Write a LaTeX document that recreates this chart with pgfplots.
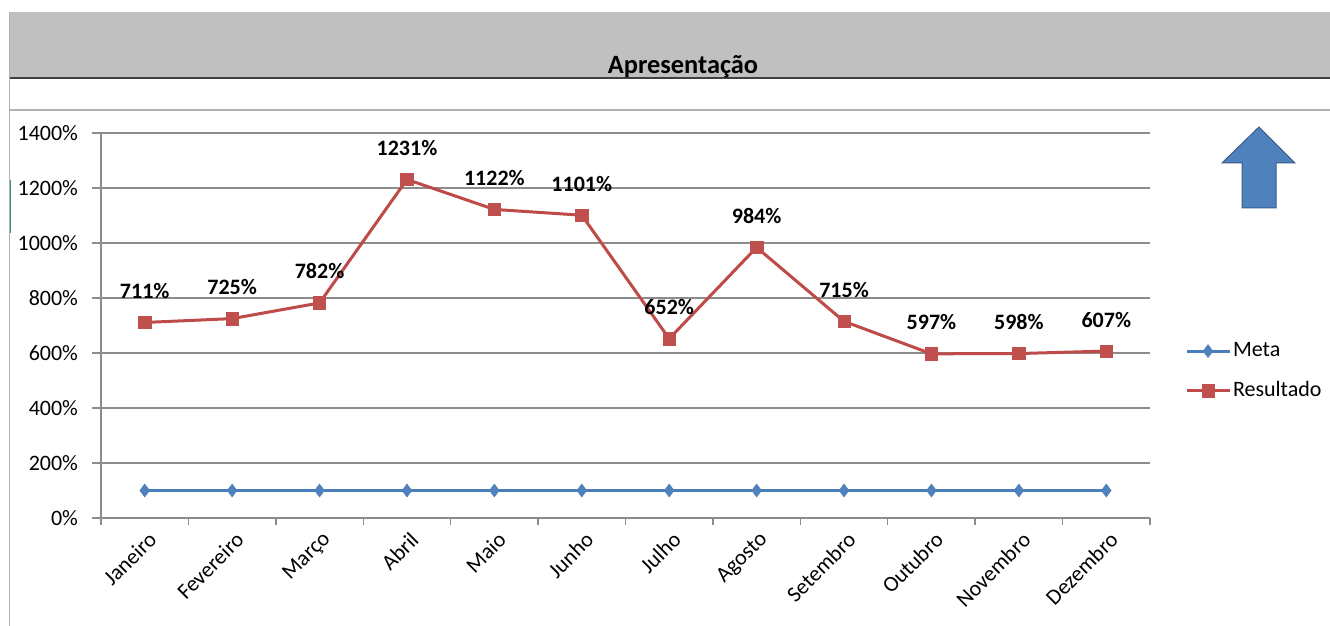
\documentclass[border=0pt]{standalone}
\usepackage{pgfplots}
\pgfplotsset{compat=1.18}
\usepackage{fontspec}
\setmainfont{Carlito}
\definecolor{metaBlue}{HTML}{4A7EBB}
\definecolor{metaMark}{HTML}{4F81BD}
\definecolor{resRed}{HTML}{BE4B48}
\definecolor{resMark}{HTML}{C0504D}
\definecolor{gridGray}{HTML}{8C8C8C}
\definecolor{bandGray}{HTML}{C0C0C0}
\definecolor{darkLine}{HTML}{404040}
\definecolor{arrowBlue}{HTML}{4F81BD}
\definecolor{arrowEdge}{HTML}{385D8A}
\definecolor{xlGreen}{HTML}{3A9A5E}
\begin{document}
\begin{tikzpicture}[font=\fontsize{11pt}{13.2pt}\selectfont]
\useasboundingbox (0,0) rectangle (665pt,313pt);
\fill[white] (0,0) rectangle (665pt,313pt);
\fill[bandGray] (4.75pt,274pt) rectangle (665pt,307pt);
\draw[darkLine, line width=1.4pt] (4.75pt,274pt) -- (665pt,274pt);
\draw[gray!60, line width=0.6pt] (4.75pt,258pt) -- (665pt,258pt);
\draw[gray!60, line width=0.7pt] (4.75pt,0pt) -- (4.75pt,307pt);
\draw[xlGreen, line width=0.7pt] (5.2pt,196.5pt) -- (5.2pt,223pt);
\node[anchor=base, font=\fontsize{13.2pt}{15pt}\selectfont\bfseries] at (341.5pt,276.3pt) {Apresentação};
% arrow
\filldraw[fill=arrowBlue, draw=arrowEdge, line width=0.5pt]
  (629.5pt,249.5pt) -- (647.5pt,231.5pt) -- (638pt,231.5pt) -- (638pt,209pt)
  -- (621pt,209pt) -- (621pt,231.5pt) -- (611pt,231.5pt) -- cycle;
\begin{axis}[
  at={(50.5pt,54pt)}, anchor=south west,
  scale only axis, width=524.5pt, height=192.5pt,
  xmin=-0.5, xmax=11.5, ymin=0, ymax=1400,
  axis x line*=bottom, axis y line*=left,
  axis line style={gridGray, line width=0.7pt, -},
  xtick={0,...,11},
  xticklabels={Janeiro,Fevereiro,Março,Abril,Maio,Junho,Julho,Agosto,Setembro,Outubro,Novembro,Dezembro},
  minor xtick={-0.5,0.5,...,11.5},
  major x tick style={draw=none},
  minor x tick style={gridGray, line width=0.7pt},
  minor tick length=3.5pt,
  ytick={0,200,...,1400},
  y tick style={gridGray, line width=0.7pt},
  major tick length=4.5pt,
  tick align=outside,
  ymajorgrids,
  major grid style={gridGray, line width=0.7pt},
  yticklabel={\pgfmathprintnumber{\tick}\%},
  /pgf/number format/assume math mode=true,
  /pgf/number format/1000 sep={},
  y tick label style={xshift=-3.5pt},
  x tick label style={rotate=45, anchor=east, xshift=3pt, yshift=-6pt},
  clip=false,
  legend style={at={(rel axis cs:1.033,0.462)}, anchor=north west, draw=none, fill=none,
    inner sep=0pt, row sep=9pt, font=\fontsize{11pt}{13.2pt}\selectfont,
    nodes={inner sep=1pt}},
  legend cell align=left,
  legend image code/.code={\draw[mark repeat=2,mark phase=2,#1] plot coordinates {(0pt,0pt) (10.75pt,0pt) (21.5pt,0pt)};},
]
\addplot[metaBlue, line width=1.5pt, mark=diamond*, mark size=3.2pt,
  mark options={fill=metaMark, draw=metaMark, line width=0.3pt}]
  coordinates {(0,100) (1,100) (2,100) (3,100) (4,100) (5,100) (6,100) (7,100) (8,100) (9,100) (10,100) (11,100)};
\addlegendentry{Meta}
\addplot[resRed, line width=1.5pt, mark=square*, mark size=3.1pt,
  mark options={fill=resMark, draw=resMark, line width=0.3pt},
  nodes near coords={\pgfmathprintnumber[fixed,precision=0,1000 sep={}]{\pgfplotspointmeta}\%},
  every node near coord/.style={anchor=base, yshift=12pt, black, font=\fontsize{11pt}{13.2pt}\selectfont\bfseries, /pgf/number format/assume math mode=true}]
  coordinates {(0,711) (1,725) (2,782) (3,1231) (4,1122) (5,1101) (6,652) (7,984) (8,715) (9,597) (10,598) (11,607)};
\addlegendentry{Resultado}
\end{axis}
\end{tikzpicture}
\end{document}
